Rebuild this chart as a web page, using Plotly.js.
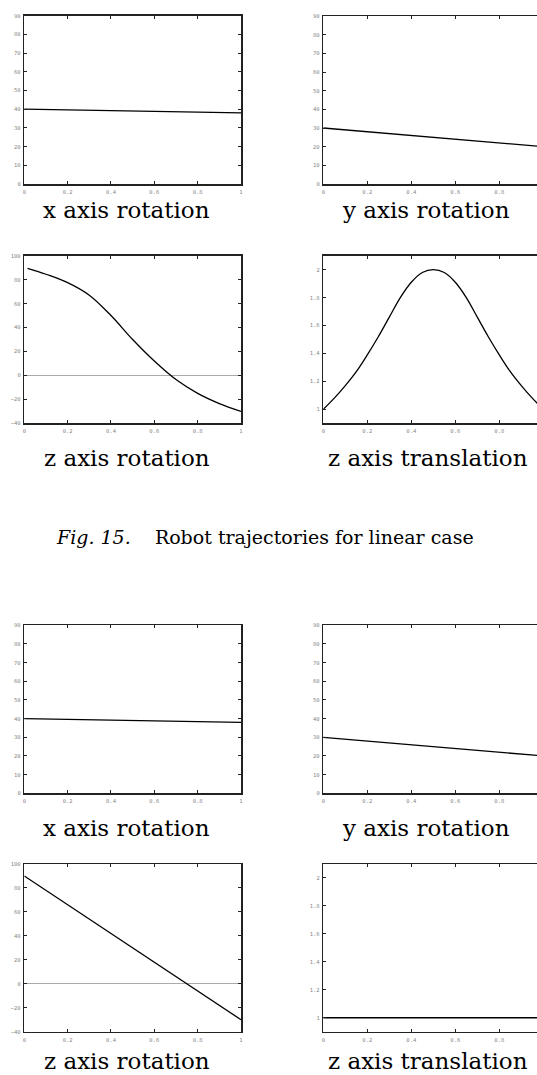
<!DOCTYPE html>
<html>
<head>
<meta charset="utf-8">
<script src="https://cdn.plot.ly/plotly-3.0.1.min.js"></script>
<style>
  html, body { margin: 0; padding: 0; background: #fff; }
  #fig { width: 537px; height: 1075px; }
</style>
</head>
<body>
<div id="fig"></div>
<script>
// time samples (normalised 0..1) and joint values
const lineT = [0, 0.2, 0.4, 0.6, 0.8, 1];
const xRotDeg = [40, 39.6, 39.2, 38.8, 38.4, 38];
const yRotDeg = [30, 28, 26, 24, 22, 20];

// case 1 (top): curved z rotation and bell-shaped z translation
const zRotCurveT = [0.015, 0.1, 0.2, 0.3, 0.4, 0.5, 0.6, 0.7, 0.8, 0.9, 1.0];
const zRotCurveDeg = [89.5, 84.5, 77.5, 67, 50, 30, 12, -3.5, -15, -23.5, -30];
const zTransBellT = [0, 0.05, 0.1, 0.15, 0.2, 0.25, 0.3, 0.35, 0.4, 0.45, 0.5,
                     0.55, 0.6, 0.65, 0.7, 0.75, 0.8, 0.85, 0.9, 0.95, 1.0];
const zTransBell = [1.0, 1.08, 1.17, 1.27, 1.39, 1.52, 1.66, 1.80, 1.91, 1.98, 2.0,
                    1.98, 1.91, 1.80, 1.66, 1.52, 1.39, 1.27, 1.17, 1.08, 1.0];

// case 2 (bottom): straight z rotation, constant z translation
const zRotLineT = [0, 1];
const zRotLineDeg = [90, -30];
const zTransFlatT = [0, 1];
const zTransFlat = [1, 1];

const panelTitles = ['x axis rotation', 'y axis rotation', 'z axis rotation', 'z axis translation'];
const caption = '<i>Fig. 15.</i>\u00a0\u00a0\u00a0 Robot trajectories for linear case';

const W = 537, H = 1075;
const fx = p => p / W;
const fy = p => 1 - p / H;

// plot frames in pixels: [left, right, top, bottom]
const frames = [
    [24.3, 241, 15.7, 184],
    [323.3, 537, 16, 184],
    [24.3, 241, 255.7, 423.3],
    [323.3, 537, 255.7, 423.3],
    [24.3, 241, 625.3, 793.3],
    [323.3, 537, 625.3, 793.3],
    [24.3, 241, 864, 1031.7],
    [323.3, 537, 864, 1031.7]
];

const traces = [
    [lineT, xRotDeg], [lineT, yRotDeg], [zRotCurveT, zRotCurveDeg], [zTransBellT, zTransBell],
    [lineT, xRotDeg], [lineT, yRotDeg], [zRotLineT, zRotLineDeg], [zTransFlatT, zTransFlat]
];

const data = traces.map((tr, i) => ({
    x: tr[0],
    y: tr[1],
    mode: 'lines',
    line: { color: '#000', width: 1.3, shape: (i === 2 || i === 3) ? 'spline' : 'linear', smoothing: 1 },
    xaxis: 'x' + (i + 1),
    yaxis: 'y' + (i + 1),
    showlegend: false,
    hoverinfo: 'skip'
}));

const tickFont = { family: 'DejaVu Sans Mono', size: 5.5, color: '#888' };

const layout = {
    width: W,
    height: H,
    margin: { l: 0, r: 0, t: 0, b: 0 },
    paper_bgcolor: '#fff',
    plot_bgcolor: '#fff',
    showlegend: false,
    annotations: []
};

frames.forEach((f, i) => {
    const right = i % 2 === 1;
    const kind = Math.floor(i / 2) % 2; // 0: x/y rotation row, 1: z row
    let yr, dt, zero = false;
    if (kind === 0) { yr = [0, 90]; dt = 10; }
    else if (!right) { yr = [-40, 100]; dt = 20; zero = true; }
    else { yr = [0.9, 2.1]; dt = 0.2; }

    layout['xaxis' + (i + 1)] = {
        domain: [fx(f[0]), fx(f[1])],
        anchor: 'y' + (i + 1),
        range: right ? [0, (f[1] - f[0]) / 220] : [0, 1],
        tick0: 0, dtick: 0.2,
        showgrid: false, zeroline: false,
        showline: true, linecolor: '#222', linewidth: 1.5,
        mirror: 'ticks',
        ticks: 'inside', ticklen: 3, tickwidth: 1, tickcolor: '#222',
        tickfont: tickFont,
        ticklabelstandoff: 2,
        fixedrange: true
    };
    layout['yaxis' + (i + 1)] = {
        domain: [fy(f[3]), fy(f[2])],
        anchor: 'x' + (i + 1),
        range: yr,
        tick0: 0, dtick: dt,
        showgrid: false,
        zeroline: zero, zerolinecolor: '#aaa', zerolinewidth: 1,
        showline: true, linecolor: '#222', linewidth: 1.5,
        mirror: right ? false : 'ticks',
        ticks: 'inside', ticklen: 3, tickwidth: 1, tickcolor: '#222',
        tickfont: tickFont,
        ticklabelstandoff: 1,
        fixedrange: true
    };
});

// panel titles under each plot
const titlePos = [
    [126.7, 210, 0], [426, 210, 1], [126.7, 458, 2], [428, 458, 3],
    [126.7, 828, 0], [426, 828, 1], [126.7, 1061, 2], [428, 1061, 3]
];
titlePos.forEach(p => {
    layout.annotations.push({
        text: panelTitles[p[2]],
        xref: 'paper', yref: 'paper',
        x: fx(p[0]), y: fy(p[1]),
        xanchor: 'center', yanchor: 'middle',
        showarrow: false,
        font: { family: 'DejaVu Serif', size: 23, color: '#000' }
    });
});

layout.annotations.push({
    text: caption,
    xref: 'paper', yref: 'paper',
    x: fx(264.5), y: fy(537),
    xanchor: 'center', yanchor: 'middle',
    showarrow: false,
    font: { family: 'DejaVu Serif', size: 19, color: '#000' }
});

Plotly.newPlot('fig', data, layout, { staticPlot: true, displayModeBar: false });
</script>
</body>
</html>
